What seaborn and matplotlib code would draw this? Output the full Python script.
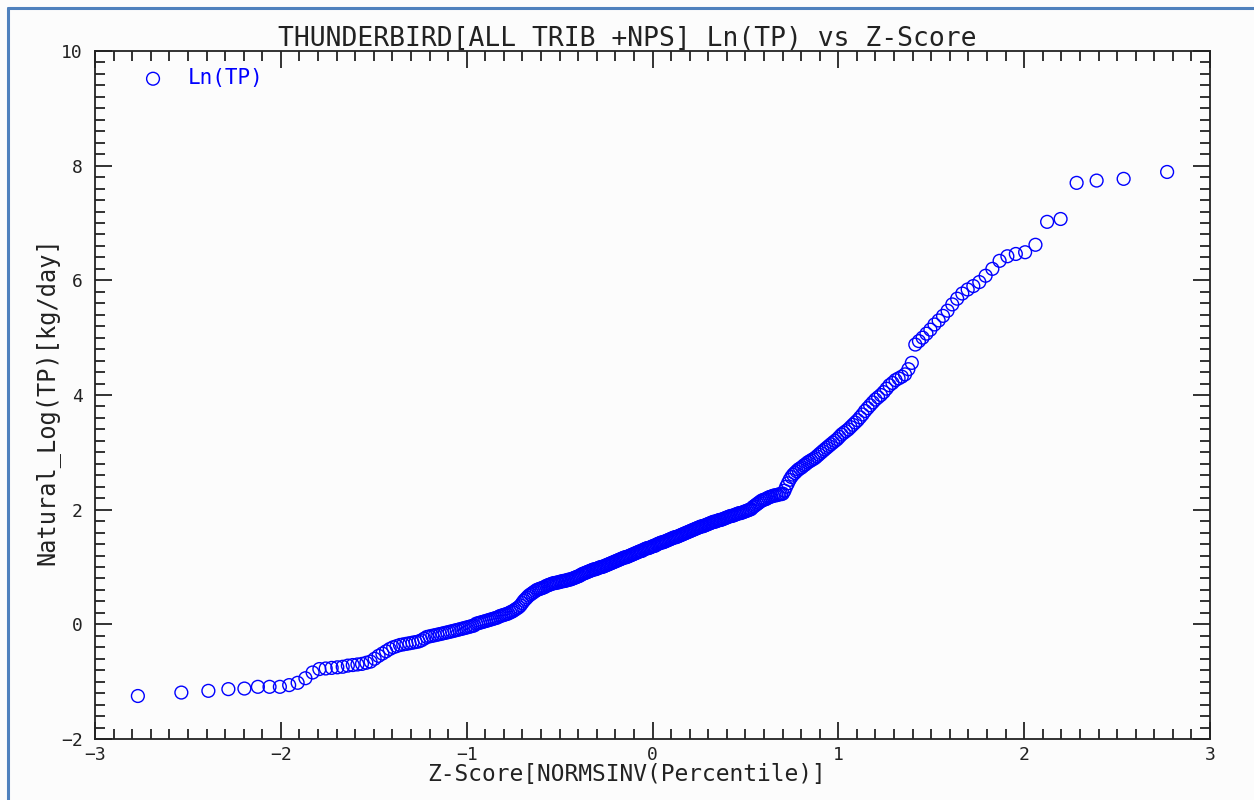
import matplotlib
matplotlib.use("Agg")
import matplotlib.pyplot as plt
import seaborn as sns
import pandas as pd
import numpy as np
from statistics import NormalDist
from matplotlib.ticker import MultipleLocator

# sorted Ln(TP) values
ln_tp = [
    -1.25, -1.19, -1.16, -1.13, -1.12, -1.09, -1.09, -1.09, -1.06, -1.02,
    -0.94, -0.84, -0.78, -0.77, -0.76, -0.75, -0.74, -0.72, -0.71, -0.70,
    -0.69, -0.67, -0.65, -0.60, -0.55, -0.51, -0.47, -0.43, -0.40, -0.38,
    -0.36, -0.35, -0.34, -0.33, -0.32, -0.31, -0.30, -0.28, -0.25, -0.22,
    -0.21, -0.20, -0.19, -0.18, -0.17, -0.16, -0.15, -0.14, -0.13, -0.12,
    -0.11, -0.10, -0.09, -0.08, -0.07, -0.06, -0.05, -0.04, -0.03, -0.02,
    0.01, 0.02, 0.03, 0.04, 0.05, 0.06, 0.07, 0.08, 0.09, 0.10,
    0.11, 0.12, 0.14, 0.15, 0.16, 0.17, 0.18, 0.19, 0.21, 0.22,
    0.24, 0.26, 0.28, 0.30, 0.33, 0.37, 0.41, 0.44, 0.47, 0.50,
    0.52, 0.54, 0.56, 0.58, 0.60, 0.61, 0.62, 0.63, 0.64, 0.65,
    0.67, 0.68, 0.69, 0.70, 0.71, 0.72, 0.72, 0.73, 0.73, 0.74,
    0.75, 0.75, 0.76, 0.76, 0.77, 0.78, 0.78, 0.79, 0.80, 0.81,
    0.82, 0.83, 0.84, 0.85, 0.87, 0.88, 0.89, 0.90, 0.91, 0.92,
    0.93, 0.94, 0.95, 0.96, 0.96, 0.97, 0.98, 0.99, 1.00, 1.00,
    1.01, 1.02, 1.03, 1.04, 1.05, 1.06, 1.07, 1.08, 1.09, 1.10,
    1.11, 1.12, 1.13, 1.14, 1.15, 1.16, 1.17, 1.17, 1.18, 1.19,
    1.20, 1.21, 1.22, 1.23, 1.24, 1.25, 1.26, 1.27, 1.28, 1.28,
    1.30, 1.31, 1.32, 1.33, 1.33, 1.34, 1.35, 1.36, 1.37, 1.37,
    1.39, 1.40, 1.41, 1.42, 1.43, 1.43, 1.44, 1.45, 1.46, 1.47,
    1.48, 1.49, 1.50, 1.51, 1.52, 1.52, 1.53, 1.54, 1.55, 1.56,
    1.57, 1.58, 1.59, 1.60, 1.61, 1.62, 1.63, 1.64, 1.65, 1.66,
    1.67, 1.68, 1.69, 1.70, 1.71, 1.71, 1.72, 1.73, 1.74, 1.75,
    1.76, 1.77, 1.78, 1.79, 1.79, 1.80, 1.81, 1.82, 1.82, 1.83,
    1.84, 1.85, 1.86, 1.87, 1.88, 1.89, 1.89, 1.90, 1.91, 1.92,
    1.93, 1.94, 1.94, 1.95, 1.96, 1.97, 1.98, 1.99, 2.00, 2.01,
    2.04, 2.06, 2.08, 2.10, 2.12, 2.14, 2.16, 2.17, 2.18, 2.19,
    2.21, 2.22, 2.23, 2.24, 2.25, 2.25, 2.26, 2.27, 2.27, 2.28,
    2.33, 2.40, 2.46, 2.52, 2.57, 2.61, 2.64, 2.67, 2.70, 2.72,
    2.74, 2.77, 2.79, 2.82, 2.84, 2.86, 2.88, 2.90, 2.93, 2.96,
    2.99, 3.02, 3.05, 3.08, 3.11, 3.14, 3.17, 3.20, 3.23, 3.27,
    3.31, 3.34, 3.37, 3.40, 3.44, 3.48, 3.52, 3.56, 3.61, 3.66,
    3.72, 3.77, 3.82, 3.87, 3.92, 3.96, 4.00, 4.05, 4.11, 4.17,
    4.21, 4.26, 4.29, 4.32, 4.36, 4.45, 4.56, 4.88, 4.94, 5.00,
    5.07, 5.14, 5.23, 5.30, 5.38, 5.47, 5.58, 5.68, 5.77, 5.84,
    5.90, 5.97, 6.08, 6.20, 6.34, 6.42, 6.46, 6.49, 6.62, 7.02,
    7.07, 7.70, 7.74, 7.77, 7.89,
]

x_ticks = [-3, -2, -1, 0, 1, 2, 3]
y_ticks = [-2, 0, 2, 4, 6, 8, 10]

title = "THUNDERBIRD[ALL TRIB +NPS] Ln(TP) vs Z-Score"
x_label = "Z-Score[NORMSINV(Percentile)]"
y_label = "Natural_Log(TP)[kg/day]"
series_name = "Ln(TP)"

# z-score of each rank: NORMSINV(rank / (n + 1))
n = len(ln_tp)
z_score = [NormalDist().inv_cdf((i + 1) / (n + 1)) for i in range(n)]
df = pd.DataFrame({"z": z_score, "ln_tp": ln_tp})

sns.set_style("ticks")
plt.rcParams["font.family"] = ["DejaVu Sans Mono", "DejaVu Sans"]

bg = "#fcfcfc"
blue = "#0000ff"
ink = "#222222"

fig = plt.figure(figsize=(12.54, 8.0), dpi=100, facecolor=bg)
ax = fig.add_axes([95 / 1254, 1 - 739 / 800, 1115 / 1254, 688 / 800])
ax.set_facecolor(bg)

sns.scatterplot(data=df, x="z", y="ln_tp", ax=ax, marker="o", s=85,
                facecolors="none", edgecolor=blue, linewidth=1.0,
                label=series_name, zorder=3)

ax.set_xlim(-3, 3)
ax.set_ylim(-2, 10)
ax.set_xticks(x_ticks)
ax.set_yticks(y_ticks)
ax.xaxis.set_minor_locator(MultipleLocator(0.1))
ax.yaxis.set_minor_locator(MultipleLocator(0.2))
ax.tick_params(which="both", direction="in", top=True, right=True,
               color=ink, width=1.3)
ax.tick_params(which="major", length=12, labelsize=13, labelcolor=ink)
ax.tick_params(which="minor", length=7.5)
ax.tick_params(axis="y", which="major", pad=9)
ax.tick_params(axis="x", which="major", pad=5)
for sp in ax.spines.values():
    sp.set_linewidth(1.3)
    sp.set_color(ink)

ax.set_xlabel("")
ax.set_ylabel("")

leg = ax.legend(loc="upper left", bbox_to_anchor=(0.0427, 0.975),
                frameon=False, borderpad=0, borderaxespad=0,
                handlelength=1.0, handletextpad=1.18,
                prop={"size": 15}, labelcolor=blue)

fig.text(0.5, 1 - 39 / 800, title, ha="center", va="center",
         fontsize=19, color=ink)
fig.text(0.5, 1 - 775 / 800, x_label, ha="center", va="center",
         fontsize=16.5, color=ink)
fig.text(47 / 1254, 1 - 401 / 800, y_label, ha="center", va="center",
         rotation=90, fontsize=17, color=ink)

# thin frame lines on the left and top edges of the picture
fig.add_artist(plt.Line2D([8 / 1254, 8 / 1254], [0, 1 - 8 / 800],
                          transform=fig.transFigure, color="#4f81bd", lw=2.2))
fig.add_artist(plt.Line2D([8 / 1254, 1], [1 - 8 / 800, 1 - 8 / 800],
                          transform=fig.transFigure, color="#4f81bd", lw=2.2))

fig.savefig("out.png", dpi=100, facecolor=bg)
